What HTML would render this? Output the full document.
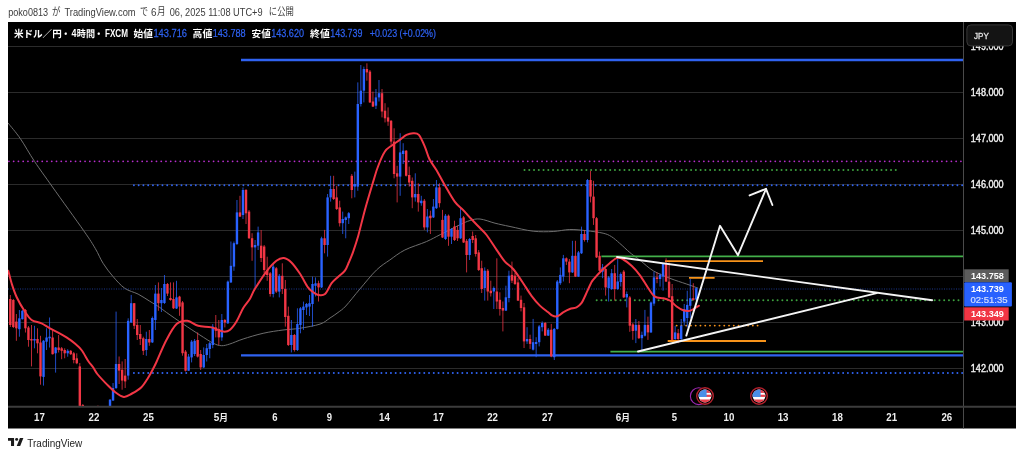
<!DOCTYPE html><html lang="ja"><head><meta charset="utf-8"><title>USDJPY chart</title><style>
html,body{margin:0;padding:0;background:#fff;}
body{width:1024px;height:457px;position:relative;overflow:hidden;font-family:"Liberation Sans","Noto Sans CJK JP",sans-serif;}
svg text{font-family:"Liberation Sans","Noto Sans CJK JP",sans-serif;white-space:pre}
</style></head><body><svg width="1024" height="457" viewBox="0 0 1024 457" style="position:absolute;left:0;top:0"><defs><clipPath id="pane"><rect x="8" y="22" width="955.5" height="384.5"/></clipPath></defs><rect x="8" y="22" width="1008" height="406.5" fill="#000"/><line x1="8" x2="963" y1="368.5" y2="368.5" stroke="#2b2b2b" stroke-width="1"/><line x1="8" x2="963" y1="322.5" y2="322.5" stroke="#2b2b2b" stroke-width="1"/><line x1="8" x2="963" y1="276.5" y2="276.5" stroke="#2b2b2b" stroke-width="1"/><line x1="8" x2="963" y1="230.5" y2="230.5" stroke="#2b2b2b" stroke-width="1"/><line x1="8" x2="963" y1="184.5" y2="184.5" stroke="#2b2b2b" stroke-width="1"/><line x1="8" x2="963" y1="138.5" y2="138.5" stroke="#2b2b2b" stroke-width="1"/><line x1="8" x2="963" y1="92.5" y2="92.5" stroke="#2b2b2b" stroke-width="1"/><line x1="8" x2="963" y1="46.5" y2="46.5" stroke="#2b2b2b" stroke-width="1"/><g clip-path="url(#pane)"><path fill="none" stroke="#6e6e6e" stroke-width="1" d="M8.0,123.0C10.1,125.6 16.0,132.3 20.4,138.7C24.8,145.1 29.1,153.3 34.5,161.4C39.9,169.5 44.3,175.4 52.5,187.0C60.7,198.6 76.5,220.4 83.7,230.7C90.9,241.0 92.2,243.3 95.4,248.7C98.6,254.1 100.1,258.6 103.1,263.3C106.0,268.0 109.5,272.4 113.1,276.6C116.7,280.8 120.6,285.4 124.8,288.3C129.0,291.2 133.9,292.0 138.1,294.1C142.2,296.2 146.1,299.0 149.7,301.2C153.3,303.4 156.9,305.5 159.7,307.4C162.5,309.3 162.7,309.7 166.6,312.5C170.5,315.3 177.8,320.4 183.3,324.1C188.9,327.9 194.9,331.8 199.9,335.0C204.9,338.2 209.6,341.4 213.2,343.2C216.8,345.0 218.7,345.6 221.5,345.7C224.3,345.8 226.2,345.1 229.8,344.0C233.4,342.9 237.5,340.8 243.1,339.0C248.7,337.2 256.5,334.8 263.1,333.3C269.8,331.8 276.9,330.8 283.0,330.0C289.1,329.2 293.5,329.3 299.7,328.3C305.9,327.3 314.9,325.8 320.0,324.1C325.1,322.4 327.0,319.9 330.0,318.0C333.0,316.1 335.4,314.5 338.0,312.5C340.6,310.5 342.2,309.9 345.8,306.0C349.4,302.1 354.8,295.0 359.9,289.0C365.0,283.0 371.5,274.8 376.5,270.0C381.5,265.2 385.1,263.3 389.8,260.0C394.5,256.7 398.7,253.1 404.8,250.0C410.9,246.9 420.4,244.2 426.4,241.6C432.3,239.0 434.9,237.3 440.5,234.5C446.1,231.7 454.8,227.2 459.7,224.9C464.6,222.6 466.6,221.5 470.0,220.5C473.4,219.5 475.8,218.6 480.0,219.0C484.2,219.4 490.0,221.9 495.0,223.2C500.0,224.4 503.6,225.2 510.0,226.5C516.4,227.8 526.0,230.4 533.2,231.2C540.4,232.0 547.1,231.8 553.2,231.5C559.3,231.2 564.3,229.6 569.8,229.5C575.3,229.4 580.8,230.1 586.4,230.7C592.0,231.3 598.9,232.2 603.1,233.2C607.3,234.2 608.6,234.9 611.4,236.6C614.2,238.3 616.7,240.7 619.7,243.3C622.8,245.9 626.9,250.1 629.7,252.4C632.5,254.8 634.3,255.9 636.3,257.4C638.3,258.9 638.8,259.4 641.6,261.6C644.4,263.8 648.6,268.0 653.3,270.8C658.0,273.6 664.4,276.1 669.9,278.3C675.4,280.5 681.8,282.4 686.5,284.0C691.2,285.6 696.2,287.5 698.2,288.2"/><line x1="8" x2="963" y1="289" y2="289" stroke="#2443a8" stroke-width="1" stroke-dasharray="1 1.4" opacity="0.85"/><line x1="241.0" x2="963.0" y1="60.0" y2="60.0" stroke="#2f62f0" stroke-width="2.4"/><line x1="8.9" x2="963.0" y1="161.3" y2="161.3" stroke="#b52dca" stroke-width="1.8" stroke-dasharray="0.01 4.75" stroke-linecap="round"/><line x1="524.5" x2="899.0" y1="170.0" y2="170.0" stroke="#3c9f3e" stroke-width="2.0" stroke-dasharray="0.01 4.75" stroke-linecap="round"/><line x1="133.9" x2="963.0" y1="185.2" y2="185.2" stroke="#2f62f0" stroke-width="1.9" stroke-dasharray="0.01 4.75" stroke-linecap="round"/><line x1="601.4" x2="963.0" y1="256.4" y2="256.4" stroke="#43b04a" stroke-width="1.8"/><line x1="596.7" x2="963.0" y1="300.3" y2="300.3" stroke="#3c9f3e" stroke-width="2.0" stroke-dasharray="0.01 4.75" stroke-linecap="round"/><line x1="610.4" x2="963.0" y1="351.6" y2="351.6" stroke="#43b04a" stroke-width="1.8"/><line x1="241.0" x2="963.0" y1="355.4" y2="355.4" stroke="#2f62f0" stroke-width="2.4"/><line x1="133.9" x2="963.0" y1="373.1" y2="373.1" stroke="#2f62f0" stroke-width="2.0" stroke-dasharray="0.01 4.75" stroke-linecap="round"/><line x1="665.0" x2="763.0" y1="261.1" y2="261.1" stroke="#f7931a" stroke-width="1.8"/><line x1="689.0" x2="714.6" y1="277.9" y2="277.9" stroke="#f7931a" stroke-width="1.8"/><line x1="667.7" x2="766.0" y1="341.0" y2="341.0" stroke="#f7931a" stroke-width="1.8"/><line x1="671.9" x2="760.0" y1="325.6" y2="325.6" stroke="#f7931a" stroke-width="1.9" stroke-dasharray="0.01 4.75" stroke-linecap="round"/><rect x="9.85" y="295.0" width="0.9" height="32.0" fill="#f23645" opacity="0.85"/><rect x="9.10" y="299.0" width="2.4" height="26.0" fill="#f23645"/><rect x="12.87" y="299.0" width="0.9" height="29.0" fill="#f23645" opacity="0.85"/><rect x="12.12" y="300.0" width="2.4" height="27.0" fill="#f23645"/><rect x="15.89" y="314.0" width="0.9" height="26.8" fill="#f23645" opacity="0.85"/><rect x="15.14" y="321.6" width="2.4" height="6.7" fill="#f23645"/><rect x="18.92" y="310.0" width="0.9" height="26.7" fill="#2962ff" opacity="0.85"/><rect x="18.17" y="318.3" width="2.4" height="10.9" fill="#2962ff"/><rect x="21.94" y="310.0" width="0.9" height="9.5" fill="#2962ff" opacity="0.85"/><rect x="21.19" y="310.8" width="2.4" height="8.4" fill="#2962ff"/><rect x="24.96" y="309.0" width="0.9" height="23.5" fill="#f23645" opacity="0.85"/><rect x="24.21" y="310.0" width="2.4" height="18.3" fill="#f23645"/><rect x="27.98" y="326.0" width="0.9" height="20.7" fill="#f23645" opacity="0.85"/><rect x="27.23" y="327.5" width="2.4" height="12.5" fill="#f23645"/><rect x="31.00" y="325.0" width="0.9" height="41.4" fill="#f23645" opacity="0.85"/><rect x="30.25" y="339.0" width="2.4" height="1.5" fill="#f23645"/><rect x="34.03" y="325.8" width="0.9" height="22.5" fill="#2962ff" opacity="0.85"/><rect x="33.28" y="339.0" width="2.4" height="1.5" fill="#2962ff"/><rect x="37.05" y="328.3" width="0.9" height="25.0" fill="#f23645" opacity="0.85"/><rect x="36.30" y="339.0" width="2.4" height="4.3" fill="#f23645"/><rect x="40.07" y="335.8" width="0.9" height="48.9" fill="#f23645" opacity="0.85"/><rect x="39.32" y="342.5" width="2.4" height="33.9" fill="#f23645"/><rect x="43.09" y="340.0" width="0.9" height="45.6" fill="#2962ff" opacity="0.85"/><rect x="42.34" y="340.8" width="2.4" height="36.1" fill="#2962ff"/><rect x="46.11" y="328.3" width="0.9" height="21.7" fill="#2962ff" opacity="0.85"/><rect x="45.36" y="337.5" width="2.4" height="4.2" fill="#2962ff"/><rect x="49.14" y="317.5" width="0.9" height="30.0" fill="#2962ff" opacity="0.85"/><rect x="48.39" y="336.7" width="2.4" height="1.6" fill="#2962ff"/><rect x="52.16" y="330.0" width="0.9" height="24.5" fill="#f23645" opacity="0.85"/><rect x="51.41" y="337.5" width="2.4" height="16.7" fill="#f23645"/><rect x="55.18" y="347.0" width="0.9" height="25.6" fill="#2962ff" opacity="0.85"/><rect x="54.43" y="347.5" width="2.4" height="5.8" fill="#2962ff"/><rect x="58.20" y="335.0" width="0.9" height="17.5" fill="#f23645" opacity="0.85"/><rect x="57.45" y="347.5" width="2.4" height="2.5" fill="#f23645"/><rect x="61.22" y="347.0" width="0.9" height="12.2" fill="#f23645" opacity="0.85"/><rect x="60.47" y="348.3" width="2.4" height="2.5" fill="#f23645"/><rect x="64.25" y="348.3" width="0.9" height="10.0" fill="#f23645" opacity="0.85"/><rect x="63.50" y="350.0" width="2.4" height="3.3" fill="#f23645"/><rect x="67.27" y="349.2" width="0.9" height="7.5" fill="#2962ff" opacity="0.85"/><rect x="66.52" y="350.8" width="2.4" height="2.5" fill="#2962ff"/><rect x="70.29" y="350.0" width="0.9" height="5.0" fill="#f23645" opacity="0.85"/><rect x="69.54" y="350.8" width="2.4" height="3.4" fill="#f23645"/><rect x="73.31" y="352.0" width="0.9" height="11.3" fill="#f23645" opacity="0.85"/><rect x="72.56" y="353.3" width="2.4" height="6.7" fill="#f23645"/><rect x="76.33" y="353.3" width="0.9" height="10.9" fill="#f23645" opacity="0.85"/><rect x="75.58" y="358.3" width="2.4" height="5.0" fill="#f23645"/><rect x="79.36" y="363.0" width="0.9" height="44.0" fill="#f23645" opacity="0.85"/><rect x="78.61" y="366.4" width="2.4" height="40.6" fill="#f23645"/><rect x="82.38" y="404.0" width="0.9" height="3.0" fill="#f23645" opacity="0.85"/><rect x="81.63" y="405.0" width="2.4" height="2.0" fill="#f23645"/><rect x="97.49" y="405.5" width="0.9" height="1.5" fill="#f23645" opacity="0.85"/><rect x="96.74" y="406.0" width="2.4" height="1.0" fill="#f23645"/><rect x="109.58" y="399.0" width="0.9" height="8.0" fill="#2962ff" opacity="0.85"/><rect x="108.83" y="399.7" width="2.4" height="7.3" fill="#2962ff"/><rect x="112.60" y="383.0" width="0.9" height="18.0" fill="#2962ff" opacity="0.85"/><rect x="111.85" y="388.0" width="2.4" height="12.5" fill="#2962ff"/><rect x="115.62" y="311.6" width="0.9" height="77.4" fill="#2962ff" opacity="0.85"/><rect x="114.87" y="364.0" width="2.4" height="24.0" fill="#2962ff"/><rect x="118.64" y="356.5" width="0.9" height="27.5" fill="#f23645" opacity="0.85"/><rect x="117.89" y="364.0" width="2.4" height="6.6" fill="#f23645"/><rect x="121.66" y="361.4" width="0.9" height="28.3" fill="#f23645" opacity="0.85"/><rect x="120.91" y="369.8" width="2.4" height="10.8" fill="#f23645"/><rect x="124.69" y="359.0" width="0.9" height="29.0" fill="#f23645" opacity="0.85"/><rect x="123.94" y="375.6" width="2.4" height="5.8" fill="#f23645"/><rect x="127.71" y="318.3" width="0.9" height="61.4" fill="#2962ff" opacity="0.85"/><rect x="126.96" y="320.8" width="2.4" height="54.8" fill="#2962ff"/><rect x="130.73" y="294.9" width="0.9" height="28.1" fill="#2962ff" opacity="0.85"/><rect x="129.98" y="303.2" width="2.4" height="19.3" fill="#2962ff"/><rect x="133.75" y="303.0" width="0.9" height="26.0" fill="#f23645" opacity="0.85"/><rect x="133.00" y="303.2" width="2.4" height="22.6" fill="#f23645"/><rect x="136.77" y="319.0" width="0.9" height="21.0" fill="#f23645" opacity="0.85"/><rect x="136.02" y="325.0" width="2.4" height="10.0" fill="#f23645"/><rect x="139.80" y="325.0" width="0.9" height="20.0" fill="#f23645" opacity="0.85"/><rect x="139.05" y="334.0" width="2.4" height="5.0" fill="#f23645"/><rect x="142.82" y="336.7" width="0.9" height="18.3" fill="#f23645" opacity="0.85"/><rect x="142.07" y="338.3" width="2.4" height="12.5" fill="#f23645"/><rect x="145.84" y="331.7" width="0.9" height="24.1" fill="#2962ff" opacity="0.85"/><rect x="145.09" y="339.0" width="2.4" height="11.0" fill="#2962ff"/><rect x="148.86" y="330.0" width="0.9" height="15.8" fill="#f23645" opacity="0.85"/><rect x="148.11" y="339.0" width="2.4" height="3.5" fill="#f23645"/><rect x="151.88" y="316.5" width="0.9" height="26.5" fill="#2962ff" opacity="0.85"/><rect x="151.13" y="318.0" width="2.4" height="24.4" fill="#2962ff"/><rect x="154.91" y="285.0" width="0.9" height="45.0" fill="#2962ff" opacity="0.85"/><rect x="154.16" y="293.6" width="2.4" height="26.4" fill="#2962ff"/><rect x="157.93" y="282.4" width="0.9" height="28.4" fill="#f23645" opacity="0.85"/><rect x="157.18" y="293.6" width="2.4" height="9.6" fill="#f23645"/><rect x="160.95" y="288.0" width="0.9" height="24.0" fill="#2962ff" opacity="0.85"/><rect x="160.20" y="300.0" width="2.4" height="3.2" fill="#2962ff"/><rect x="163.97" y="275.0" width="0.9" height="29.0" fill="#2962ff" opacity="0.85"/><rect x="163.22" y="284.0" width="2.4" height="19.0" fill="#2962ff"/><rect x="166.99" y="283.0" width="0.9" height="13.0" fill="#f23645" opacity="0.85"/><rect x="166.24" y="284.0" width="2.4" height="9.6" fill="#f23645"/><rect x="170.02" y="282.4" width="0.9" height="18.3" fill="#f23645" opacity="0.85"/><rect x="169.27" y="298.0" width="2.4" height="2.0" fill="#f23645"/><rect x="173.04" y="282.4" width="0.9" height="26.6" fill="#f23645" opacity="0.85"/><rect x="172.29" y="299.0" width="2.4" height="9.3" fill="#f23645"/><rect x="176.06" y="280.8" width="0.9" height="28.2" fill="#2962ff" opacity="0.85"/><rect x="175.31" y="297.4" width="2.4" height="11.1" fill="#2962ff"/><rect x="179.08" y="295.8" width="0.9" height="20.0" fill="#f23645" opacity="0.85"/><rect x="178.33" y="296.6" width="2.4" height="10.0" fill="#f23645"/><rect x="182.10" y="301.0" width="0.9" height="54.7" fill="#f23645" opacity="0.85"/><rect x="181.35" y="302.4" width="2.4" height="50.8" fill="#f23645"/><rect x="185.13" y="350.0" width="0.9" height="21.5" fill="#f23645" opacity="0.85"/><rect x="184.38" y="351.6" width="2.4" height="19.1" fill="#f23645"/><rect x="188.15" y="354.0" width="0.9" height="17.0" fill="#2962ff" opacity="0.85"/><rect x="187.40" y="356.6" width="2.4" height="14.1" fill="#2962ff"/><rect x="191.17" y="340.0" width="0.9" height="22.4" fill="#2962ff" opacity="0.85"/><rect x="190.42" y="341.6" width="2.4" height="15.8" fill="#2962ff"/><rect x="194.19" y="339.0" width="0.9" height="17.0" fill="#2962ff" opacity="0.85"/><rect x="193.44" y="340.8" width="2.4" height="13.2" fill="#2962ff"/><rect x="197.21" y="332.4" width="0.9" height="25.1" fill="#f23645" opacity="0.85"/><rect x="196.46" y="340.0" width="2.4" height="16.6" fill="#f23645"/><rect x="200.24" y="350.0" width="0.9" height="20.0" fill="#f23645" opacity="0.85"/><rect x="199.49" y="354.0" width="2.4" height="13.4" fill="#f23645"/><rect x="203.26" y="347.4" width="0.9" height="20.6" fill="#2962ff" opacity="0.85"/><rect x="202.51" y="355.0" width="2.4" height="12.4" fill="#2962ff"/><rect x="206.28" y="344.0" width="0.9" height="17.5" fill="#2962ff" opacity="0.85"/><rect x="205.53" y="348.2" width="2.4" height="6.8" fill="#2962ff"/><rect x="209.30" y="342.0" width="0.9" height="16.2" fill="#2962ff" opacity="0.85"/><rect x="208.55" y="343.2" width="2.4" height="5.8" fill="#2962ff"/><rect x="212.32" y="324.0" width="0.9" height="24.2" fill="#2962ff" opacity="0.85"/><rect x="211.57" y="326.6" width="2.4" height="18.4" fill="#2962ff"/><rect x="215.35" y="315.0" width="0.9" height="22.4" fill="#f23645" opacity="0.85"/><rect x="214.60" y="327.4" width="2.4" height="3.4" fill="#f23645"/><rect x="218.37" y="320.0" width="0.9" height="25.0" fill="#f23645" opacity="0.85"/><rect x="217.62" y="329.0" width="2.4" height="8.4" fill="#f23645"/><rect x="221.39" y="314.0" width="0.9" height="26.8" fill="#2962ff" opacity="0.85"/><rect x="220.64" y="320.0" width="2.4" height="17.4" fill="#2962ff"/><rect x="224.41" y="319.0" width="0.9" height="8.4" fill="#f23645" opacity="0.85"/><rect x="223.66" y="320.0" width="2.4" height="2.5" fill="#f23645"/><rect x="227.43" y="280.5" width="0.9" height="43.5" fill="#2962ff" opacity="0.85"/><rect x="226.68" y="281.6" width="2.4" height="41.7" fill="#2962ff"/><rect x="230.46" y="241.5" width="0.9" height="41.5" fill="#2962ff" opacity="0.85"/><rect x="229.71" y="265.8" width="2.4" height="16.6" fill="#2962ff"/><rect x="233.48" y="241.5" width="0.9" height="29.3" fill="#2962ff" opacity="0.85"/><rect x="232.73" y="243.2" width="2.4" height="23.4" fill="#2962ff"/><rect x="236.50" y="200.0" width="0.9" height="45.0" fill="#2962ff" opacity="0.85"/><rect x="235.75" y="212.4" width="2.4" height="31.6" fill="#2962ff"/><rect x="239.52" y="195.8" width="0.9" height="21.2" fill="#f23645" opacity="0.85"/><rect x="238.77" y="212.4" width="2.4" height="4.2" fill="#f23645"/><rect x="242.54" y="187.5" width="0.9" height="31.5" fill="#2962ff" opacity="0.85"/><rect x="241.79" y="190.0" width="2.4" height="25.0" fill="#2962ff"/><rect x="245.57" y="189.0" width="0.9" height="35.0" fill="#f23645" opacity="0.85"/><rect x="244.82" y="190.0" width="2.4" height="23.3" fill="#f23645"/><rect x="248.59" y="210.0" width="0.9" height="29.0" fill="#f23645" opacity="0.85"/><rect x="247.84" y="211.6" width="2.4" height="26.6" fill="#f23645"/><rect x="251.61" y="233.2" width="0.9" height="27.6" fill="#f23645" opacity="0.85"/><rect x="250.86" y="238.2" width="2.4" height="9.2" fill="#f23645"/><rect x="254.63" y="240.0" width="0.9" height="49.0" fill="#2962ff" opacity="0.85"/><rect x="253.88" y="245.0" width="2.4" height="2.4" fill="#2962ff"/><rect x="257.65" y="226.6" width="0.9" height="23.4" fill="#2962ff" opacity="0.85"/><rect x="256.90" y="232.4" width="2.4" height="13.3" fill="#2962ff"/><rect x="260.68" y="230.0" width="0.9" height="32.0" fill="#f23645" opacity="0.85"/><rect x="259.93" y="245.7" width="2.4" height="12.3" fill="#f23645"/><rect x="263.70" y="245.0" width="0.9" height="28.3" fill="#f23645" opacity="0.85"/><rect x="262.95" y="246.5" width="2.4" height="23.5" fill="#f23645"/><rect x="266.72" y="256.7" width="0.9" height="24.1" fill="#f23645" opacity="0.85"/><rect x="265.97" y="270.0" width="2.4" height="5.0" fill="#f23645"/><rect x="269.74" y="272.0" width="0.9" height="24.6" fill="#f23645" opacity="0.85"/><rect x="268.99" y="273.3" width="2.4" height="20.7" fill="#f23645"/><rect x="272.76" y="264.0" width="0.9" height="33.4" fill="#2962ff" opacity="0.85"/><rect x="272.01" y="266.6" width="2.4" height="27.4" fill="#2962ff"/><rect x="275.79" y="267.0" width="0.9" height="26.0" fill="#f23645" opacity="0.85"/><rect x="275.04" y="268.3" width="2.4" height="23.3" fill="#f23645"/><rect x="278.81" y="274.0" width="0.9" height="23.4" fill="#2962ff" opacity="0.85"/><rect x="278.06" y="275.8" width="2.4" height="15.8" fill="#2962ff"/><rect x="281.83" y="263.3" width="0.9" height="30.7" fill="#f23645" opacity="0.85"/><rect x="281.08" y="275.8" width="2.4" height="13.2" fill="#f23645"/><rect x="284.85" y="280.0" width="0.9" height="46.6" fill="#f23645" opacity="0.85"/><rect x="284.10" y="289.0" width="2.4" height="28.0" fill="#f23645"/><rect x="287.87" y="306.6" width="0.9" height="39.4" fill="#f23645" opacity="0.85"/><rect x="287.12" y="315.8" width="2.4" height="29.2" fill="#f23645"/><rect x="290.90" y="320.0" width="0.9" height="32.4" fill="#2962ff" opacity="0.85"/><rect x="290.15" y="335.0" width="2.4" height="10.0" fill="#2962ff"/><rect x="293.92" y="334.0" width="0.9" height="17.6" fill="#f23645" opacity="0.85"/><rect x="293.17" y="335.0" width="2.4" height="15.0" fill="#f23645"/><rect x="296.94" y="308.3" width="0.9" height="42.7" fill="#2962ff" opacity="0.85"/><rect x="296.19" y="324.0" width="2.4" height="26.0" fill="#2962ff"/><rect x="299.96" y="307.0" width="0.9" height="26.3" fill="#2962ff" opacity="0.85"/><rect x="299.21" y="308.3" width="2.4" height="16.7" fill="#2962ff"/><rect x="302.98" y="301.6" width="0.9" height="28.4" fill="#2962ff" opacity="0.85"/><rect x="302.23" y="306.6" width="2.4" height="3.4" fill="#2962ff"/><rect x="306.01" y="303.0" width="0.9" height="12.0" fill="#2962ff" opacity="0.85"/><rect x="305.26" y="304.0" width="2.4" height="3.4" fill="#2962ff"/><rect x="309.03" y="295.0" width="0.9" height="21.0" fill="#2962ff" opacity="0.85"/><rect x="308.28" y="303.2" width="2.4" height="3.4" fill="#2962ff"/><rect x="312.05" y="276.6" width="0.9" height="50.0" fill="#2962ff" opacity="0.85"/><rect x="311.30" y="284.0" width="2.4" height="20.0" fill="#2962ff"/><rect x="315.07" y="277.4" width="0.9" height="19.1" fill="#2962ff" opacity="0.85"/><rect x="314.32" y="283.3" width="2.4" height="2.5" fill="#2962ff"/><rect x="318.09" y="280.7" width="0.9" height="20.8" fill="#f23645" opacity="0.85"/><rect x="317.34" y="283.2" width="2.4" height="4.2" fill="#f23645"/><rect x="321.12" y="236.7" width="0.9" height="51.3" fill="#2962ff" opacity="0.85"/><rect x="320.37" y="238.3" width="2.4" height="49.1" fill="#2962ff"/><rect x="324.14" y="229.9" width="0.9" height="23.4" fill="#f23645" opacity="0.85"/><rect x="323.39" y="238.3" width="2.4" height="6.7" fill="#f23645"/><rect x="327.16" y="194.0" width="0.9" height="62.6" fill="#2962ff" opacity="0.85"/><rect x="326.41" y="197.4" width="2.4" height="47.6" fill="#2962ff"/><rect x="330.18" y="175.8" width="0.9" height="25.8" fill="#2962ff" opacity="0.85"/><rect x="329.43" y="189.0" width="2.4" height="8.4" fill="#2962ff"/><rect x="333.20" y="175.8" width="0.9" height="24.2" fill="#f23645" opacity="0.85"/><rect x="332.45" y="189.0" width="2.4" height="10.0" fill="#f23645"/><rect x="336.23" y="185.8" width="0.9" height="24.2" fill="#f23645" opacity="0.85"/><rect x="335.48" y="197.4" width="2.4" height="11.6" fill="#f23645"/><rect x="339.25" y="200.7" width="0.9" height="25.8" fill="#f23645" opacity="0.85"/><rect x="338.50" y="207.4" width="2.4" height="15.8" fill="#f23645"/><rect x="342.27" y="211.6" width="0.9" height="22.4" fill="#2962ff" opacity="0.85"/><rect x="341.52" y="219.0" width="2.4" height="4.2" fill="#2962ff"/><rect x="345.29" y="216.5" width="0.9" height="21.8" fill="#2962ff" opacity="0.85"/><rect x="344.54" y="217.4" width="2.4" height="2.6" fill="#2962ff"/><rect x="348.31" y="212.0" width="0.9" height="12.0" fill="#2962ff" opacity="0.85"/><rect x="347.56" y="213.2" width="2.4" height="5.0" fill="#2962ff"/><rect x="351.34" y="174.0" width="0.9" height="24.3" fill="#f23645" opacity="0.85"/><rect x="350.59" y="175.8" width="2.4" height="14.2" fill="#f23645"/><rect x="354.36" y="171.6" width="0.9" height="25.8" fill="#2962ff" opacity="0.85"/><rect x="353.61" y="184.0" width="2.4" height="2.6" fill="#2962ff"/><rect x="357.38" y="82.4" width="0.9" height="108.4" fill="#2962ff" opacity="0.85"/><rect x="356.63" y="104.0" width="2.4" height="82.6" fill="#2962ff"/><rect x="360.40" y="65.0" width="0.9" height="41.5" fill="#2962ff" opacity="0.85"/><rect x="359.65" y="90.7" width="2.4" height="13.3" fill="#2962ff"/><rect x="363.42" y="66.6" width="0.9" height="35.8" fill="#2962ff" opacity="0.85"/><rect x="362.67" y="69.0" width="2.4" height="21.7" fill="#2962ff"/><rect x="366.45" y="63.3" width="0.9" height="17.4" fill="#f23645" opacity="0.85"/><rect x="365.70" y="69.0" width="2.4" height="3.4" fill="#f23645"/><rect x="369.47" y="70.0" width="0.9" height="33.0" fill="#f23645" opacity="0.85"/><rect x="368.72" y="71.6" width="2.4" height="30.8" fill="#f23645"/><rect x="372.49" y="91.6" width="0.9" height="15.4" fill="#f23645" opacity="0.85"/><rect x="371.74" y="101.5" width="2.4" height="5.1" fill="#f23645"/><rect x="375.51" y="89.0" width="0.9" height="20.0" fill="#2962ff" opacity="0.85"/><rect x="374.76" y="97.4" width="2.4" height="8.3" fill="#2962ff"/><rect x="378.53" y="80.0" width="0.9" height="21.5" fill="#2962ff" opacity="0.85"/><rect x="377.78" y="93.2" width="2.4" height="4.2" fill="#2962ff"/><rect x="381.56" y="89.0" width="0.9" height="28.4" fill="#f23645" opacity="0.85"/><rect x="380.81" y="93.2" width="2.4" height="18.3" fill="#f23645"/><rect x="384.58" y="103.2" width="0.9" height="19.2" fill="#f23645" opacity="0.85"/><rect x="383.83" y="110.7" width="2.4" height="7.6" fill="#f23645"/><rect x="387.60" y="107.4" width="0.9" height="18.4" fill="#f23645" opacity="0.85"/><rect x="386.85" y="117.4" width="2.4" height="4.2" fill="#f23645"/><rect x="390.62" y="120.0" width="0.9" height="24.9" fill="#f23645" opacity="0.85"/><rect x="389.87" y="120.8" width="2.4" height="20.8" fill="#f23645"/><rect x="393.64" y="128.3" width="0.9" height="50.0" fill="#f23645" opacity="0.85"/><rect x="392.89" y="141.6" width="2.4" height="32.4" fill="#f23645"/><rect x="396.67" y="165.8" width="0.9" height="36.6" fill="#f23645" opacity="0.85"/><rect x="395.92" y="173.3" width="2.4" height="3.3" fill="#f23645"/><rect x="399.69" y="133.2" width="0.9" height="62.6" fill="#2962ff" opacity="0.85"/><rect x="398.94" y="152.4" width="2.4" height="24.2" fill="#2962ff"/><rect x="402.71" y="143.2" width="0.9" height="20.8" fill="#2962ff" opacity="0.85"/><rect x="401.96" y="150.7" width="2.4" height="3.3" fill="#2962ff"/><rect x="405.73" y="150.0" width="0.9" height="26.5" fill="#f23645" opacity="0.85"/><rect x="404.98" y="150.7" width="2.4" height="25.1" fill="#f23645"/><rect x="408.75" y="166.6" width="0.9" height="20.0" fill="#f23645" opacity="0.85"/><rect x="408.00" y="175.0" width="2.4" height="7.5" fill="#f23645"/><rect x="411.78" y="177.5" width="0.9" height="30.7" fill="#f23645" opacity="0.85"/><rect x="411.03" y="180.8" width="2.4" height="16.6" fill="#f23645"/><rect x="414.80" y="173.3" width="0.9" height="28.3" fill="#2962ff" opacity="0.85"/><rect x="414.05" y="194.0" width="2.4" height="3.4" fill="#2962ff"/><rect x="417.82" y="183.3" width="0.9" height="28.3" fill="#f23645" opacity="0.85"/><rect x="417.07" y="194.0" width="2.4" height="8.4" fill="#f23645"/><rect x="420.84" y="195.8" width="0.9" height="9.9" fill="#2962ff" opacity="0.85"/><rect x="420.09" y="200.7" width="2.4" height="2.5" fill="#2962ff"/><rect x="423.86" y="199.0" width="0.9" height="30.9" fill="#f23645" opacity="0.85"/><rect x="423.11" y="200.7" width="2.4" height="26.7" fill="#f23645"/><rect x="426.89" y="209.0" width="0.9" height="23.4" fill="#2962ff" opacity="0.85"/><rect x="426.14" y="216.5" width="2.4" height="10.9" fill="#2962ff"/><rect x="429.91" y="210.7" width="0.9" height="23.3" fill="#f23645" opacity="0.85"/><rect x="429.16" y="215.7" width="2.4" height="2.5" fill="#f23645"/><rect x="432.93" y="199.0" width="0.9" height="19.0" fill="#2962ff" opacity="0.85"/><rect x="432.18" y="206.6" width="2.4" height="10.8" fill="#2962ff"/><rect x="435.95" y="180.0" width="0.9" height="29.0" fill="#2962ff" opacity="0.85"/><rect x="435.20" y="187.4" width="2.4" height="20.8" fill="#2962ff"/><rect x="438.97" y="183.3" width="0.9" height="24.1" fill="#f23645" opacity="0.85"/><rect x="438.22" y="187.4" width="2.4" height="15.8" fill="#f23645"/><rect x="442.00" y="209.9" width="0.9" height="28.1" fill="#f23645" opacity="0.85"/><rect x="441.25" y="219.9" width="2.4" height="17.6" fill="#f23645"/><rect x="445.02" y="214.0" width="0.9" height="26.0" fill="#2962ff" opacity="0.85"/><rect x="444.27" y="215.7" width="2.4" height="23.3" fill="#2962ff"/><rect x="448.04" y="214.5" width="0.9" height="31.3" fill="#f23645" opacity="0.85"/><rect x="447.29" y="215.7" width="2.4" height="21.0" fill="#f23645"/><rect x="451.06" y="228.0" width="0.9" height="16.0" fill="#2962ff" opacity="0.85"/><rect x="450.31" y="229.0" width="2.4" height="7.7" fill="#2962ff"/><rect x="454.08" y="220.7" width="0.9" height="20.3" fill="#f23645" opacity="0.85"/><rect x="453.33" y="226.5" width="2.4" height="13.5" fill="#f23645"/><rect x="457.11" y="225.7" width="0.9" height="15.3" fill="#f23645" opacity="0.85"/><rect x="456.36" y="229.9" width="2.4" height="8.4" fill="#f23645"/><rect x="460.13" y="207.4" width="0.9" height="31.6" fill="#2962ff" opacity="0.85"/><rect x="459.38" y="218.2" width="2.4" height="20.1" fill="#2962ff"/><rect x="463.15" y="216.0" width="0.9" height="27.0" fill="#f23645" opacity="0.85"/><rect x="462.40" y="217.4" width="2.4" height="25.1" fill="#f23645"/><rect x="466.17" y="239.0" width="0.9" height="33.4" fill="#f23645" opacity="0.85"/><rect x="465.42" y="240.8" width="2.4" height="14.2" fill="#f23645"/><rect x="469.19" y="238.0" width="0.9" height="22.0" fill="#2962ff" opacity="0.85"/><rect x="468.44" y="239.0" width="2.4" height="16.0" fill="#2962ff"/><rect x="472.22" y="231.5" width="0.9" height="11.5" fill="#f23645" opacity="0.85"/><rect x="471.47" y="236.0" width="2.4" height="4.0" fill="#f23645"/><rect x="475.24" y="235.0" width="0.9" height="21.6" fill="#f23645" opacity="0.85"/><rect x="474.49" y="238.3" width="2.4" height="15.7" fill="#f23645"/><rect x="478.26" y="250.0" width="0.9" height="21.0" fill="#f23645" opacity="0.85"/><rect x="477.51" y="252.4" width="2.4" height="17.6" fill="#f23645"/><rect x="481.28" y="260.7" width="0.9" height="32.3" fill="#f23645" opacity="0.85"/><rect x="480.53" y="268.2" width="2.4" height="20.8" fill="#f23645"/><rect x="484.30" y="267.4" width="0.9" height="33.2" fill="#2962ff" opacity="0.85"/><rect x="483.55" y="270.7" width="2.4" height="17.3" fill="#2962ff"/><rect x="487.33" y="269.0" width="0.9" height="31.6" fill="#f23645" opacity="0.85"/><rect x="486.58" y="270.7" width="2.4" height="20.8" fill="#f23645"/><rect x="490.35" y="280.7" width="0.9" height="15.8" fill="#f23645" opacity="0.85"/><rect x="489.60" y="290.7" width="2.4" height="2.5" fill="#f23645"/><rect x="493.37" y="286.5" width="0.9" height="22.5" fill="#2962ff" opacity="0.85"/><rect x="492.62" y="288.0" width="2.4" height="3.5" fill="#2962ff"/><rect x="496.39" y="258.3" width="0.9" height="50.7" fill="#f23645" opacity="0.85"/><rect x="495.64" y="291.5" width="2.4" height="10.0" fill="#f23645"/><rect x="499.41" y="292.3" width="0.9" height="23.3" fill="#f23645" opacity="0.85"/><rect x="498.66" y="299.8" width="2.4" height="9.2" fill="#f23645"/><rect x="502.44" y="301.5" width="0.9" height="29.9" fill="#f23645" opacity="0.85"/><rect x="501.69" y="308.0" width="2.4" height="2.6" fill="#f23645"/><rect x="505.46" y="285.7" width="0.9" height="25.3" fill="#2962ff" opacity="0.85"/><rect x="504.71" y="297.3" width="2.4" height="13.3" fill="#2962ff"/><rect x="508.48" y="270.7" width="0.9" height="31.6" fill="#2962ff" opacity="0.85"/><rect x="507.73" y="275.7" width="2.4" height="22.3" fill="#2962ff"/><rect x="511.50" y="261.6" width="0.9" height="21.4" fill="#f23645" opacity="0.85"/><rect x="510.75" y="274.9" width="2.4" height="5.8" fill="#f23645"/><rect x="514.52" y="273.0" width="0.9" height="12.0" fill="#f23645" opacity="0.85"/><rect x="513.77" y="275.7" width="2.4" height="8.3" fill="#f23645"/><rect x="517.55" y="278.2" width="0.9" height="22.8" fill="#f23645" opacity="0.85"/><rect x="516.80" y="282.4" width="2.4" height="18.2" fill="#f23645"/><rect x="520.57" y="295.6" width="0.9" height="15.8" fill="#f23645" opacity="0.85"/><rect x="519.82" y="299.8" width="2.4" height="8.2" fill="#f23645"/><rect x="523.59" y="303.0" width="0.9" height="45.0" fill="#f23645" opacity="0.85"/><rect x="522.84" y="307.3" width="2.4" height="34.1" fill="#f23645"/><rect x="526.61" y="327.2" width="0.9" height="16.7" fill="#2962ff" opacity="0.85"/><rect x="525.86" y="339.0" width="2.4" height="2.4" fill="#2962ff"/><rect x="529.63" y="334.7" width="0.9" height="14.2" fill="#f23645" opacity="0.85"/><rect x="528.88" y="339.0" width="2.4" height="4.9" fill="#f23645"/><rect x="532.66" y="318.9" width="0.9" height="31.6" fill="#2962ff" opacity="0.85"/><rect x="531.91" y="342.2" width="2.4" height="7.5" fill="#2962ff"/><rect x="535.68" y="337.2" width="0.9" height="20.0" fill="#2962ff" opacity="0.85"/><rect x="534.93" y="342.0" width="2.4" height="2.0" fill="#2962ff"/><rect x="538.70" y="325.0" width="0.9" height="21.4" fill="#2962ff" opacity="0.85"/><rect x="537.95" y="326.4" width="2.4" height="15.8" fill="#2962ff"/><rect x="541.72" y="321.4" width="0.9" height="10.0" fill="#2962ff" opacity="0.85"/><rect x="540.97" y="323.0" width="2.4" height="4.2" fill="#2962ff"/><rect x="544.74" y="322.0" width="0.9" height="14.0" fill="#f23645" opacity="0.85"/><rect x="543.99" y="323.0" width="2.4" height="12.6" fill="#f23645"/><rect x="547.77" y="328.0" width="0.9" height="8.0" fill="#2962ff" opacity="0.85"/><rect x="547.02" y="329.7" width="2.4" height="5.9" fill="#2962ff"/><rect x="550.79" y="323.9" width="0.9" height="33.3" fill="#f23645" opacity="0.85"/><rect x="550.04" y="329.7" width="2.4" height="26.7" fill="#f23645"/><rect x="553.81" y="328.0" width="0.9" height="32.0" fill="#2962ff" opacity="0.85"/><rect x="553.06" y="328.9" width="2.4" height="28.3" fill="#2962ff"/><rect x="556.83" y="280.0" width="0.9" height="49.5" fill="#2962ff" opacity="0.85"/><rect x="556.08" y="281.5" width="2.4" height="47.4" fill="#2962ff"/><rect x="559.85" y="267.4" width="0.9" height="17.5" fill="#2962ff" opacity="0.85"/><rect x="559.10" y="274.9" width="2.4" height="8.3" fill="#2962ff"/><rect x="562.88" y="254.9" width="0.9" height="26.6" fill="#2962ff" opacity="0.85"/><rect x="562.13" y="258.3" width="2.4" height="18.3" fill="#2962ff"/><rect x="565.90" y="257.4" width="0.9" height="7.5" fill="#f23645" opacity="0.85"/><rect x="565.15" y="258.3" width="2.4" height="3.3" fill="#f23645"/><rect x="568.92" y="259.0" width="0.9" height="24.2" fill="#f23645" opacity="0.85"/><rect x="568.17" y="261.6" width="2.4" height="10.8" fill="#f23645"/><rect x="571.94" y="240.8" width="0.9" height="32.2" fill="#2962ff" opacity="0.85"/><rect x="571.19" y="255.8" width="2.4" height="16.6" fill="#2962ff"/><rect x="574.96" y="240.8" width="0.9" height="36.2" fill="#f23645" opacity="0.85"/><rect x="574.21" y="255.8" width="2.4" height="20.8" fill="#f23645"/><rect x="577.99" y="251.0" width="0.9" height="26.0" fill="#2962ff" opacity="0.85"/><rect x="577.24" y="252.4" width="2.4" height="24.2" fill="#2962ff"/><rect x="581.01" y="226.6" width="0.9" height="27.4" fill="#2962ff" opacity="0.85"/><rect x="580.26" y="234.0" width="2.4" height="19.3" fill="#2962ff"/><rect x="584.03" y="230.0" width="0.9" height="11.6" fill="#f23645" opacity="0.85"/><rect x="583.28" y="234.0" width="2.4" height="6.0" fill="#f23645"/><rect x="587.05" y="179.0" width="0.9" height="63.4" fill="#2962ff" opacity="0.85"/><rect x="586.30" y="180.0" width="2.4" height="60.0" fill="#2962ff"/><rect x="590.07" y="170.8" width="0.9" height="31.6" fill="#f23645" opacity="0.85"/><rect x="589.32" y="180.0" width="2.4" height="16.6" fill="#f23645"/><rect x="593.10" y="180.8" width="0.9" height="44.1" fill="#f23645" opacity="0.85"/><rect x="592.35" y="196.6" width="2.4" height="21.6" fill="#f23645"/><rect x="596.12" y="217.0" width="0.9" height="41.0" fill="#f23645" opacity="0.85"/><rect x="595.37" y="218.2" width="2.4" height="39.2" fill="#f23645"/><rect x="599.14" y="251.6" width="0.9" height="19.9" fill="#f23645" opacity="0.85"/><rect x="598.39" y="255.8" width="2.4" height="14.9" fill="#f23645"/><rect x="602.16" y="264.0" width="0.9" height="14.2" fill="#2962ff" opacity="0.85"/><rect x="601.41" y="267.4" width="2.4" height="4.2" fill="#2962ff"/><rect x="605.18" y="268.0" width="0.9" height="27.6" fill="#f23645" opacity="0.85"/><rect x="604.43" y="269.0" width="2.4" height="18.4" fill="#f23645"/><rect x="608.21" y="276.0" width="0.9" height="25.5" fill="#2962ff" opacity="0.85"/><rect x="607.46" y="277.4" width="2.4" height="10.8" fill="#2962ff"/><rect x="611.23" y="269.0" width="0.9" height="21.0" fill="#2962ff" opacity="0.85"/><rect x="610.48" y="273.2" width="2.4" height="15.8" fill="#2962ff"/><rect x="614.25" y="264.9" width="0.9" height="35.7" fill="#f23645" opacity="0.85"/><rect x="613.50" y="273.2" width="2.4" height="15.8" fill="#f23645"/><rect x="617.27" y="259.0" width="0.9" height="31.0" fill="#2962ff" opacity="0.85"/><rect x="616.52" y="281.5" width="2.4" height="7.5" fill="#2962ff"/><rect x="620.29" y="272.4" width="0.9" height="14.1" fill="#2962ff" opacity="0.85"/><rect x="619.54" y="274.0" width="2.4" height="8.0" fill="#2962ff"/><rect x="623.32" y="270.0" width="0.9" height="28.0" fill="#f23645" opacity="0.85"/><rect x="622.57" y="271.6" width="2.4" height="25.8" fill="#f23645"/><rect x="626.34" y="291.5" width="0.9" height="15.9" fill="#2962ff" opacity="0.85"/><rect x="625.59" y="294.0" width="2.4" height="3.4" fill="#2962ff"/><rect x="629.36" y="296.0" width="0.9" height="35.8" fill="#f23645" opacity="0.85"/><rect x="628.61" y="297.4" width="2.4" height="28.3" fill="#f23645"/><rect x="632.38" y="323.0" width="0.9" height="16.8" fill="#f23645" opacity="0.85"/><rect x="631.63" y="324.4" width="2.4" height="6.6" fill="#f23645"/><rect x="635.40" y="319.0" width="0.9" height="24.1" fill="#2962ff" opacity="0.85"/><rect x="634.65" y="324.9" width="2.4" height="5.8" fill="#2962ff"/><rect x="638.43" y="321.0" width="0.9" height="18.0" fill="#f23645" opacity="0.85"/><rect x="637.68" y="324.9" width="2.4" height="13.3" fill="#f23645"/><rect x="641.45" y="331.6" width="0.9" height="19.1" fill="#2962ff" opacity="0.85"/><rect x="640.70" y="334.9" width="2.4" height="3.3" fill="#2962ff"/><rect x="644.47" y="309.9" width="0.9" height="26.6" fill="#2962ff" opacity="0.85"/><rect x="643.72" y="324.9" width="2.4" height="10.8" fill="#2962ff"/><rect x="647.49" y="316.6" width="0.9" height="23.3" fill="#f23645" opacity="0.85"/><rect x="646.74" y="324.9" width="2.4" height="7.5" fill="#f23645"/><rect x="650.51" y="301.5" width="0.9" height="31.5" fill="#2962ff" opacity="0.85"/><rect x="649.76" y="302.5" width="2.4" height="29.9" fill="#2962ff"/><rect x="653.54" y="271.6" width="0.9" height="34.2" fill="#2962ff" opacity="0.85"/><rect x="652.79" y="277.4" width="2.4" height="26.2" fill="#2962ff"/><rect x="656.56" y="272.4" width="0.9" height="10.8" fill="#f23645" opacity="0.85"/><rect x="655.81" y="277.4" width="2.4" height="1.6" fill="#f23645"/><rect x="659.58" y="273.3" width="0.9" height="13.3" fill="#2962ff" opacity="0.85"/><rect x="658.83" y="274.9" width="2.4" height="4.1" fill="#2962ff"/><rect x="662.60" y="263.0" width="0.9" height="27.7" fill="#2962ff" opacity="0.85"/><rect x="661.85" y="264.0" width="2.4" height="12.6" fill="#2962ff"/><rect x="665.62" y="258.3" width="0.9" height="23.7" fill="#f23645" opacity="0.85"/><rect x="664.87" y="263.3" width="2.4" height="18.3" fill="#f23645"/><rect x="668.65" y="262.5" width="0.9" height="35.5" fill="#f23645" opacity="0.85"/><rect x="667.90" y="281.6" width="2.4" height="15.9" fill="#f23645"/><rect x="671.67" y="284.0" width="0.9" height="56.5" fill="#f23645" opacity="0.85"/><rect x="670.92" y="296.2" width="2.4" height="43.7" fill="#f23645"/><rect x="674.69" y="325.8" width="0.9" height="14.2" fill="#2962ff" opacity="0.85"/><rect x="673.94" y="332.4" width="2.4" height="6.6" fill="#2962ff"/><rect x="677.71" y="329.0" width="0.9" height="14.2" fill="#f23645" opacity="0.85"/><rect x="676.96" y="333.2" width="2.4" height="5.8" fill="#f23645"/><rect x="680.73" y="319.0" width="0.9" height="21.0" fill="#2962ff" opacity="0.85"/><rect x="679.98" y="325.8" width="2.4" height="13.2" fill="#2962ff"/><rect x="683.76" y="304.0" width="0.9" height="21.7" fill="#2962ff" opacity="0.85"/><rect x="683.01" y="309.0" width="2.4" height="12.6" fill="#2962ff"/><rect x="686.78" y="290.7" width="0.9" height="36.7" fill="#2962ff" opacity="0.85"/><rect x="686.03" y="304.9" width="2.4" height="13.1" fill="#2962ff"/><rect x="689.80" y="279.0" width="0.9" height="39.3" fill="#2962ff" opacity="0.85"/><rect x="689.05" y="298.2" width="2.4" height="7.6" fill="#2962ff"/><rect x="692.82" y="283.2" width="0.9" height="17.5" fill="#f23645" opacity="0.85"/><rect x="692.07" y="298.2" width="2.4" height="1.7" fill="#f23645"/><rect x="695.84" y="287.4" width="0.9" height="12.6" fill="#2962ff" opacity="0.85"/><rect x="695.09" y="288.2" width="2.4" height="11.3" fill="#2962ff"/><path fill="none" stroke="#f23645" stroke-width="2" stroke-linejoin="round" stroke-linecap="round" d="M8.3,270.8C8.9,272.9 10.2,278.9 11.6,283.3C13.0,287.7 14.4,292.2 16.6,297.0C18.8,301.8 22.5,308.0 25.0,311.8C27.5,315.6 28.8,318.1 31.6,320.0C34.4,321.9 38.6,321.9 41.6,323.3C44.6,324.7 47.1,326.8 49.9,328.3C52.7,329.9 55.4,331.1 58.2,332.6C61.0,334.1 63.7,335.6 66.5,337.4C69.3,339.2 72.4,341.4 74.9,343.5C77.4,345.6 79.3,347.1 81.5,350.0C83.7,352.9 86.3,358.1 88.2,361.0C90.1,363.9 91.6,365.1 93.1,367.3C94.6,369.5 95.1,371.2 97.3,374.0C99.5,376.8 103.5,380.9 106.4,383.9C109.4,386.9 112.1,389.8 115.0,392.0C117.9,394.2 121.1,396.6 123.9,396.9C126.7,397.1 129.1,395.1 132.0,393.5C134.9,391.9 138.7,389.8 141.4,387.2C144.1,384.6 146.1,381.0 148.0,378.0C149.9,375.0 151.6,371.8 153.0,369.0C154.4,366.2 154.5,366.3 156.7,361.5C158.9,356.7 163.1,346.2 166.4,340.0C169.7,333.8 173.1,327.3 176.6,324.1C180.1,320.9 183.8,320.5 187.4,320.8C191.0,321.1 194.2,324.7 198.2,325.8C202.2,326.9 207.3,326.4 211.5,327.4C215.7,328.4 220.1,331.2 223.2,331.6C226.2,332.0 227.6,331.7 229.8,330.0C232.0,328.3 234.3,325.2 236.5,321.6C238.7,318.0 240.9,312.1 243.1,308.3C245.3,304.5 247.9,302.2 249.8,299.0C251.8,295.8 252.0,293.7 254.8,289.1C257.6,284.5 262.8,276.3 266.4,271.6C270.0,266.9 273.5,263.1 276.4,260.8C279.3,258.5 281.4,257.7 283.9,258.0C286.4,258.3 288.8,259.9 291.4,262.5C294.0,265.1 296.9,269.2 299.7,273.3C302.5,277.4 305.8,284.3 308.0,287.4C310.2,290.5 311.3,290.8 313.0,292.0C314.7,293.2 316.3,294.6 318.3,294.9C320.3,295.2 322.8,295.9 325.0,294.0C327.2,292.1 329.4,286.0 331.6,283.2C333.8,280.4 335.8,279.1 338.0,277.0C340.2,274.9 343.1,273.2 344.9,270.7C346.7,268.2 347.6,265.2 349.0,262.0C350.4,258.8 351.7,255.9 353.2,251.6C354.7,247.3 356.2,242.9 358.2,236.0C360.1,229.1 362.4,219.0 364.9,209.9C367.4,200.8 371.0,188.9 373.2,181.6C375.4,174.3 376.2,171.0 378.2,166.0C380.1,161.0 382.7,154.9 384.9,151.5C387.1,148.1 389.0,147.6 391.5,145.7C394.0,143.8 397.3,141.7 399.8,139.9C402.3,138.1 404.3,136.0 406.5,134.9C408.7,133.8 411.0,133.2 413.1,133.2C415.2,133.2 416.9,132.7 418.9,134.9C420.8,137.1 423.1,142.6 424.8,146.6C426.6,150.6 427.5,155.1 429.4,159.0C431.3,162.9 433.8,165.7 436.4,170.0C438.9,174.3 441.6,179.7 444.7,185.0C447.8,190.3 451.6,197.4 454.7,201.6C457.8,205.8 460.2,207.0 463.0,209.9C465.8,212.8 468.5,216.0 471.3,219.0C474.1,222.0 477.4,225.3 480.0,228.0C482.6,230.7 483.8,231.3 486.6,235.0C489.4,238.7 493.6,245.5 496.6,249.9C499.7,254.3 502.1,258.4 504.9,261.6C507.7,264.8 510.2,265.4 513.2,269.0C516.2,272.6 520.2,278.7 523.2,283.2C526.2,287.7 528.7,292.1 531.5,295.8C534.3,299.5 537.1,302.9 539.9,305.6C542.7,308.4 546.2,310.7 548.2,312.3C550.2,313.9 550.8,314.7 552.0,315.4C553.2,316.1 554.5,316.6 555.7,316.6C557.0,316.6 558.3,315.9 559.5,315.2C560.7,314.5 561.4,313.3 563.1,312.3C564.8,311.3 567.6,309.8 569.8,309.0C572.0,308.2 574.6,308.3 576.5,307.3C578.4,306.3 579.8,305.3 581.4,303.1C583.0,300.9 584.5,297.2 586.0,294.0C587.5,290.8 589.4,286.4 590.6,284.0C591.8,281.6 591.3,282.1 593.1,279.9C594.9,277.7 598.6,273.5 601.4,270.7C604.2,267.9 607.1,265.3 609.7,263.2C612.3,261.1 614.9,258.5 617.2,257.9C619.5,257.3 620.9,258.2 623.3,259.5C625.7,260.8 628.8,263.2 631.6,265.8C634.4,268.4 637.2,271.6 640.0,275.3C642.8,279.0 645.8,284.6 648.3,288.2C650.8,291.8 652.4,294.9 654.9,296.6C657.4,298.3 660.7,297.6 663.2,298.2C665.7,298.8 667.7,299.1 669.9,300.5C672.1,301.9 674.4,304.9 676.6,306.5C678.8,308.1 681.0,309.5 683.2,310.2C685.4,310.9 688.0,311.0 689.9,310.7C691.8,310.4 693.4,309.0 694.9,308.2C696.4,307.4 698.3,306.1 699.0,305.7"/><g stroke="#f4f4f4" stroke-width="1.9" fill="none" stroke-linecap="round" stroke-linejoin="round"><polyline points="617,257 932.2,300.2"/><polyline points="638,351.5 876.7,293.1"/><polyline points="686.3,335.6 720,225.8 738,255.2 766,189"/><polyline points="749.6,195.4 766,188.8 772.4,205"/></g></g><line x1="963.5" x2="963.5" y1="22" y2="428.5" stroke="#4a4a4a" stroke-width="1"/><line x1="8" x2="1016" y1="406.8" y2="406.8" stroke="#3c3c3c" stroke-width="2"/></svg><svg width="1024" height="457" viewBox="0 0 1024 457" style="position:absolute;left:0;top:0;will-change:transform;opacity:0.999"><text transform="translate(8.20,15.60) scale(0.812,1)" font-size="11.2" font-weight="normal" fill="#3c3c3c">poko0813</text><text transform="translate(52.00,15.30) scale(0.859,1)" font-size="9.9" font-weight="normal" fill="#3c3c3c">が</text><text transform="translate(64.40,15.60) scale(0.836,1)" font-size="11.2" font-weight="normal" fill="#3c3c3c">TradingView.com</text><text transform="translate(140.00,15.30) scale(0.809,1)" font-size="9.9" font-weight="normal" fill="#3c3c3c">で</text><text transform="translate(151.00,15.60) scale(0.882,1)" font-size="11.2" font-weight="normal" fill="#3c3c3c">6</text><text transform="translate(157.00,15.30) scale(0.870,1)" font-size="9.9" font-weight="normal" fill="#3c3c3c">月</text><text transform="translate(169.70,15.60) scale(0.824,1)" font-size="11.2" font-weight="normal" fill="#3c3c3c">06, 2025 11:08 UTC+9</text><text transform="translate(268.80,15.30) scale(0.843,1)" font-size="9.9" font-weight="normal" fill="#3c3c3c">に公開</text><text transform="translate(14.00,37.00) scale(0.994,1)" font-size="9.6" font-weight="bold" fill="#fff">米ドル／円</text><text transform="translate(61.20,37.00) scale(0.938,1)" font-size="9.6" font-weight="bold" fill="#fff">・</text><text transform="translate(71.60,37.20) scale(0.825,1)" font-size="10.9" font-weight="bold" fill="#fff">4</text><text transform="translate(76.80,37.00) scale(0.949,1)" font-size="9.6" font-weight="bold" fill="#fff">時間</text><text transform="translate(94.30,37.00) scale(0.938,1)" font-size="9.6" font-weight="bold" fill="#fff">・</text><text transform="translate(105.00,37.20) scale(0.745,1)" font-size="10.9" font-weight="bold" fill="#fff">FXCM</text><text transform="translate(133.60,37.00) scale(1.011,1)" font-size="9.6" font-weight="bold" fill="#fff">始値</text><text transform="translate(153.40,37.20) scale(0.853,1)" font-size="10.9" font-weight="normal" fill="#2f62f0" stroke="#2f62f0" stroke-width="0.25">143.716</text><text transform="translate(192.50,37.00) scale(1.032,1)" font-size="9.6" font-weight="bold" fill="#fff">高値</text><text transform="translate(212.70,37.20) scale(0.836,1)" font-size="10.9" font-weight="normal" fill="#2f62f0" stroke="#2f62f0" stroke-width="0.25">143.788</text><text transform="translate(251.60,37.00) scale(1.001,1)" font-size="9.6" font-weight="bold" fill="#fff">安値</text><text transform="translate(271.20,37.20) scale(0.833,1)" font-size="10.9" font-weight="normal" fill="#2f62f0" stroke="#2f62f0" stroke-width="0.25">143.620</text><text transform="translate(310.00,37.00) scale(1.032,1)" font-size="9.6" font-weight="bold" fill="#fff">終値</text><text transform="translate(330.20,37.20) scale(0.820,1)" font-size="10.9" font-weight="normal" fill="#2f62f0" stroke="#2f62f0" stroke-width="0.25">143.739</text><text transform="translate(369.70,37.20) scale(0.817,1)" font-size="10.9" font-weight="normal" fill="#2f62f0" stroke="#2f62f0" stroke-width="0.25">+0.023 (+0.02%)</text><text transform="translate(970.80,372.10) scale(0.901,1)" font-size="10.1" font-weight="normal" fill="#f2f2f2" stroke="#f2f2f2" stroke-width="0.4">142.000</text><text transform="translate(970.80,326.10) scale(0.901,1)" font-size="10.1" font-weight="normal" fill="#f2f2f2" stroke="#f2f2f2" stroke-width="0.4">143.000</text><text transform="translate(970.80,280.10) scale(0.901,1)" font-size="10.1" font-weight="normal" fill="#f2f2f2" stroke="#f2f2f2" stroke-width="0.4">144.000</text><text transform="translate(970.80,234.10) scale(0.901,1)" font-size="10.1" font-weight="normal" fill="#f2f2f2" stroke="#f2f2f2" stroke-width="0.4">145.000</text><text transform="translate(970.80,188.10) scale(0.901,1)" font-size="10.1" font-weight="normal" fill="#f2f2f2" stroke="#f2f2f2" stroke-width="0.4">146.000</text><text transform="translate(970.80,142.10) scale(0.901,1)" font-size="10.1" font-weight="normal" fill="#f2f2f2" stroke="#f2f2f2" stroke-width="0.4">147.000</text><text transform="translate(970.80,96.10) scale(0.901,1)" font-size="10.1" font-weight="normal" fill="#f2f2f2" stroke="#f2f2f2" stroke-width="0.4">148.000</text><text transform="translate(970.80,50.10) scale(0.901,1)" font-size="10.1" font-weight="normal" fill="#f2f2f2" stroke="#f2f2f2" stroke-width="0.4">149.000</text><rect x="964.2" y="269.3" width="44.5" height="12.7" fill="#5d5d5d"/><rect x="964.2" y="282.2" width="47.7" height="24.3" rx="1" fill="#2962ff"/><rect x="964.2" y="307.3" width="44.5" height="13.2" fill="#f23645"/><rect x="966.9" y="24.9" width="45.6" height="21.0" rx="4" fill="#151515" stroke="#3a3a3a" stroke-width="1"/><text transform="translate(971.00,278.70) scale(0.939,1)" font-size="9.7" font-weight="bold" fill="#fff">143.758</text><text transform="translate(971.00,292.20) scale(0.939,1)" font-size="9.7" font-weight="bold" fill="#fff">143.739</text><text transform="translate(970.40,303.20) scale(0.984,1)" font-size="9.7" font-weight="normal" fill="#d3deff" stroke="#d3deff" stroke-width="0.25">02:51:35</text><text transform="translate(971.00,317.00) scale(0.939,1)" font-size="9.7" font-weight="bold" fill="#fff">143.349</text><text transform="translate(974.00,39.30) scale(0.840,1)" font-size="9.6" font-weight="normal" fill="#e6e6e6" stroke="#e6e6e6" stroke-width="0.3">JPY</text><text transform="translate(34.10,421.10) scale(0.924,1)" font-size="10.5" font-weight="bold" fill="#f0f0f0">17</text><text transform="translate(88.60,421.10) scale(0.924,1)" font-size="10.5" font-weight="bold" fill="#f0f0f0">22</text><text transform="translate(143.00,421.10) scale(0.924,1)" font-size="10.5" font-weight="bold" fill="#f0f0f0">25</text><text transform="translate(213.65,421.10) scale(0.948,1)" font-size="10.5" font-weight="bold" fill="#f0f0f0">5<tspan font-size="0.88em">月</tspan></text><text transform="translate(272.25,421.10) scale(0.907,1)" font-size="10.5" font-weight="bold" fill="#f0f0f0">6</text><text transform="translate(326.85,421.10) scale(0.907,1)" font-size="10.5" font-weight="bold" fill="#f0f0f0">9</text><text transform="translate(379.00,421.10) scale(0.924,1)" font-size="10.5" font-weight="bold" fill="#f0f0f0">14</text><text transform="translate(433.10,421.10) scale(0.924,1)" font-size="10.5" font-weight="bold" fill="#f0f0f0">17</text><text transform="translate(487.20,421.10) scale(0.924,1)" font-size="10.5" font-weight="bold" fill="#f0f0f0">22</text><text transform="translate(542.00,421.10) scale(0.924,1)" font-size="10.5" font-weight="bold" fill="#f0f0f0">27</text><text transform="translate(615.65,421.10) scale(0.948,1)" font-size="10.5" font-weight="bold" fill="#f0f0f0">6<tspan font-size="0.88em">月</tspan></text><text transform="translate(671.85,421.10) scale(0.907,1)" font-size="10.5" font-weight="bold" fill="#f0f0f0">5</text><text transform="translate(723.60,421.10) scale(0.924,1)" font-size="10.5" font-weight="bold" fill="#f0f0f0">10</text><text transform="translate(777.70,421.10) scale(0.924,1)" font-size="10.5" font-weight="bold" fill="#f0f0f0">13</text><text transform="translate(832.10,421.10) scale(0.924,1)" font-size="10.5" font-weight="bold" fill="#f0f0f0">18</text><text transform="translate(886.30,421.10) scale(0.924,1)" font-size="10.5" font-weight="bold" fill="#f0f0f0">21</text><text transform="translate(941.40,421.10) scale(0.924,1)" font-size="10.5" font-weight="bold" fill="#f0f0f0">26</text><text transform="translate(27.30,446.70) scale(0.918,1)" font-size="10.9" font-weight="normal" fill="#1e1e1e">TradingView</text></svg><svg style="position:absolute;left:688px;top:385px" width="24" height="24" viewBox="0 0 24 24"><circle cx="10.8" cy="11.2" r="8.4" fill="none" stroke="#9c27b0" stroke-width="1.1"/></svg><svg style="position:absolute;left:694.9px;top:386.2px" width="20" height="20" viewBox="-10 -10 20 20"><circle r="8.3" fill="#000" stroke="#b3202c" stroke-width="1.4"/><clipPath id="fc0"><circle r="6.4"/></clipPath><g clip-path="url(#fc0)"><rect x="-7" y="-7" width="14" height="14" fill="#fff"/><rect x="-7" y="-7" width="14" height="3.9" fill="#e8404d"/><rect x="-7" y="-1.3" width="14" height="2.2" fill="#e8404d"/><rect x="-7" y="3.5" width="14" height="4" fill="#e8404d"/><rect x="-7" y="-7" width="8.6" height="8" fill="#4a8fe6"/></g></svg><svg style="position:absolute;left:749.3px;top:386.2px" width="20" height="20" viewBox="-10 -10 20 20"><circle r="8.3" fill="#000" stroke="#b3202c" stroke-width="1.4"/><clipPath id="fc1"><circle r="6.4"/></clipPath><g clip-path="url(#fc1)"><rect x="-7" y="-7" width="14" height="14" fill="#fff"/><rect x="-7" y="-7" width="14" height="3.9" fill="#e8404d"/><rect x="-7" y="-1.3" width="14" height="2.2" fill="#e8404d"/><rect x="-7" y="3.5" width="14" height="4" fill="#e8404d"/><rect x="-7" y="-7" width="8.6" height="8" fill="#4a8fe6"/></g></svg><svg style="position:absolute;left:8px;top:438.3px" width="15.6" height="8.2" viewBox="0 0 36 20" preserveAspectRatio="none"><path fill="#1a1a1a" d="M14 20H7V7H0V0h14v20zM28 20h-8l7.5-20h8L28 20z"/><circle cx="20" cy="3.5" r="3.5" fill="#1a1a1a"/></svg></body></html>
